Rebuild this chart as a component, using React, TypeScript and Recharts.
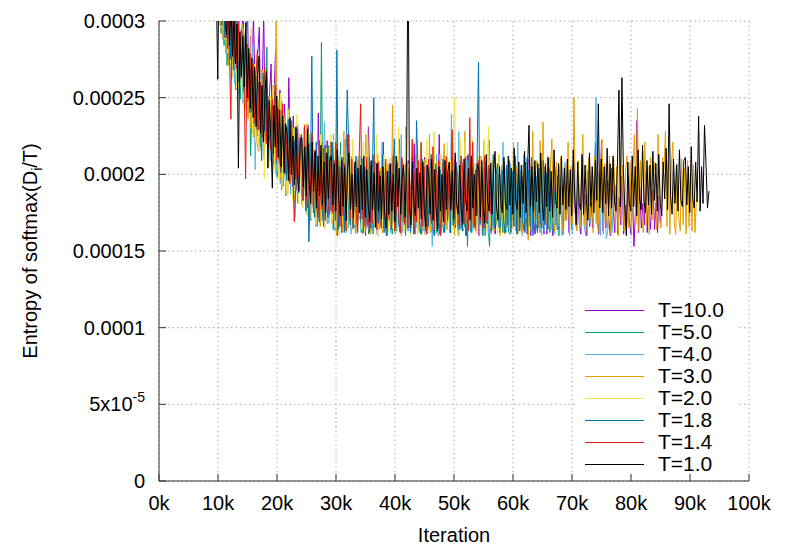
import { LineChart, Line, XAxis, YAxis, CartesianGrid } from "recharts";

// entropy values are stored in units of 1e-6, one sample every 250 iterations
const UNIT = 1e-6;
const STEP = 250;

const xTicks = [0, 10000, 20000, 30000, 40000, 50000, 60000, 70000, 80000, 90000, 100000];
const yTicks = [0, 0.00005, 0.0001, 0.00015, 0.0002, 0.00025, 0.0003];
const yTickLabels = ["0", "5x10|-5", "0.0001", "0.00015", "0.0002", "0.00025", "0.0003"];

const names = ["T=10.0", "T=5.0", "T=4.0", "T=3.0", "T=2.0", "T=1.8", "T=1.4", "T=1.0"];
const colors = ["#9400D3", "#009E73", "#56B4E9", "#E69F00", "#F0E442", "#0072B2", "#E51E10", "#000000"];
const startIters = [9000, 9030, 9060, 9090, 9120, 9150, 9180, 9210];

const t10 = [
  362, 335, 371, 318, 344, 352, 301, 329, 312, 340, 288, 321, 333, 276, 309, 297, 268, 318, 290, 262,
  286, 309, 258, 281, 312, 244, 290, 251, 305, 262, 236, 279, 296, 231, 259, 306, 228, 263, 219, 254,
  272, 218, 251, 281, 226, 207, 255, 229, 192, 246, 224, 201, 263, 213, 197, 238, 211, 190, 232, 204,
  226, 187, 219, 203, 181, 232, 198, 176, 218, 191, 208, 172, 240, 194, 183, 214, 170, 201, 222, 179,
  199, 221, 174, 188, 221, 166, 203, 185, 162, 209, 193, 171, 226, 184, 165, 205, 192, 165, 200, 178,
  212, 168, 190, 203, 160, 183, 231, 194, 166, 198, 176, 208, 161, 189, 203, 172, 221, 180, 163, 195,
  185, 164, 207, 178, 197, 165, 191, 223, 170, 184, 201, 168, 180, 209, 165, 193, 183, 220, 168, 190,
  177, 202, 161, 188, 211, 161, 194, 181, 167, 206, 186, 163, 198, 174, 226, 163, 184, 196, 165, 204,
  174, 192, 165, 201, 181, 165, 208, 161, 186, 170, 197, 176, 160, 212, 166, 189, 168, 195, 178, 163,
  187, 160, 205, 170, 182, 165, 196, 174, 222, 162, 186, 165, 161, 201, 177, 162, 191, 168, 208, 165,
  180, 163, 194, 165, 186, 170, 204, 161, 168, 190, 173, 199, 162, 183, 166, 210, 160, 188, 171, 161,
  192, 168, 165, 199, 176, 161, 207, 161, 185, 171, 196, 160, 179, 203, 164, 165, 189, 175, 161, 200,
  170, 186, 162, 195, 164, 206, 178, 165, 190, 167, 161, 198, 173, 187, 160, 203, 166, 182, 165, 191,
  221, 175, 161, 188, 222, 163, 183, 165, 196, 170, 160, 204, 176, 162, 193, 161, 185, 167, 199, 161,
  180, 165, 195, 168, 161, 188, 153, 175, 235, 162, 191, 165, 181, 167, 201, 162, 186, 164, 178, 190,
  164, 182, 162, 186, 168,
];
const t5 = [
  345, 318, 356, 305, 327, 341, 292, 318, 284, 326, 271, 305, 314, 262, 296, 277, 255, 301, 270, 249,
  283, 246, 291, 257, 238, 279, 212, 247, 270, 233, 264, 225, 257, 218, 251, 268, 222, 283, 213, 244,
  241, 252, 206, 233, 198, 245, 216, 190, 234, 207, 186, 227, 239, 194, 218, 185, 230, 199, 181, 222,
  210, 180, 222, 191, 174, 216, 187, 170, 209, 183, 215, 166, 203, 178, 286, 172, 199, 207, 168, 219,
  195, 210, 164, 189, 204, 160, 193, 221, 171, 166, 201, 178, 165, 207, 182, 168, 199, 163, 190, 211,
  186, 162, 201, 180, 165, 207, 161, 188, 196, 161, 194, 170, 204, 164, 187, 168, 197, 172, 160, 192,
  170, 199, 161, 188, 206, 163, 185, 163, 195, 168, 201, 160, 189, 166, 192, 171, 203, 165, 190, 166,
  163, 192, 171, 168, 200, 175, 165, 194, 166, 163, 190, 204, 162, 186, 161, 197, 168, 162, 191, 164,
  188, 162, 198, 167, 166, 193, 172, 160, 202, 165, 186, 166, 195, 153, 189, 163, 199, 170, 168, 190,
  168, 196, 168, 186, 211, 160, 191, 165, 153, 197, 172, 165, 190, 167, 200, 163, 186, 162, 194, 162,
  189, 162, 161, 197, 170, 192, 163, 187, 166, 201, 162, 185, 168, 195, 168, 188, 163, 173, 193, 165,
  186, 165, 198, 162, 190, 168, 168, 196, 170, 162, 192, 163, 188, 167, 199, 160, 184,
];
const t4 = [
  351, 366, 322, 341, 306, 349, 297, 288, 331, 279, 313, 272, 322, 266, 300, 259, 293, 311, 252, 281,
  296, 249, 278, 300, 239, 274, 230, 285, 262, 203, 273, 241, 219, 266, 237, 212, 261, 225, 250, 209,
  250, 213, 259, 200, 241, 212, 194, 248, 205, 235, 190, 221, 243, 187, 229, 199, 172, 233, 194, 226,
  222, 182, 230, 192, 176, 214, 226, 171, 209, 184, 166, 221, 180, 215, 170, 206, 234, 175, 201, 168,
  206, 173, 226, 163, 199, 212, 165, 193, 207, 168, 223, 162, 197, 176, 161, 208, 171, 202, 163, 191,
  211, 170, 161, 204, 181, 218, 164, 199, 163, 178, 209, 169, 160, 203, 176, 221, 165, 195, 167, 207,
  196, 162, 209, 173, 161, 202, 179, 166, 226, 162, 198, 170, 208, 163, 192, 165, 204, 174, 165, 200,
  175, 207, 162, 197, 161, 211, 178, 165, 202, 153, 190, 168, 213, 160, 195, 171, 168, 206, 166, 193,
  201, 162, 239, 175, 165, 207, 181, 228, 164, 199, 163, 188, 209, 163, 194, 213, 162, 190, 170, 205,
  166, 212, 180, 161, 221, 173, 203, 161, 195, 208, 167, 165, 207, 176, 168, 200, 170, 221, 162, 193,
  190, 165, 207, 171, 199, 166, 185, 221, 163, 203, 160, 192, 172, 211, 161, 196, 178, 162, 206, 168,
  199, 170, 162, 209, 182, 163, 203, 163, 193, 211, 164, 187, 161, 205, 180, 166, 198, 160, 190, 208,
  172, 203, 161, 194, 161, 208, 176, 164, 201, 165, 191, 210, 167, 160, 197, 182, 168, 205, 171, 195,
  250, 166, 202, 160, 191, 161, 188, 158, 163, 196, 175, 162, 190,
];
const t3 = [
  352, 318, 366, 305, 343, 297, 334, 289, 325, 281, 316, 271, 309, 299, 263, 318, 276, 255, 301, 268,
  298, 294, 243, 285, 236, 279, 230, 275, 224, 268, 221, 215, 216, 268, 231, 210, 259, 220, 205, 251,
  214, 258, 210, 305, 202, 249, 197, 239, 193, 237, 188, 187, 243, 195, 231, 190, 182, 234, 199, 188,
  226, 182, 219, 177, 233, 187, 172, 224, 180, 215, 168, 212, 179, 166, 221, 183, 173, 214, 168, 210,
  204, 168, 213, 174, 160, 210, 171, 202, 163, 228, 175, 165, 207, 170, 212, 164, 199, 161, 209, 173,
  170, 211, 165, 202, 226, 165, 206, 161, 199, 209, 168, 198, 213, 166, 204, 162, 208, 171, 163, 201,
  210, 166, 245, 172, 161, 205, 212, 168, 160, 207, 175, 231, 163, 203, 168, 210, 171, 165, 213, 174,
  162, 206, 172, 163, 210, 176, 164, 226, 162, 203, 173, 161, 208, 168, 213, 161, 201, 220, 164, 196,
  208, 165, 201, 221, 160, 205, 171, 168, 210, 174, 166, 228, 162, 204, 165, 211, 172, 164, 207, 169,
  203, 160, 212, 171, 168, 208, 165, 226, 173, 161, 209, 163, 203, 167, 213, 160, 206, 172, 161, 204,
  165, 210, 173, 165, 221, 169, 205, 161, 208, 166, 162, 213, 174, 168, 157, 207, 163, 228, 171, 203,
  209, 166, 222, 160, 234, 175, 168, 212, 165, 205, 223, 170, 163, 208, 168, 201, 211, 167, 162, 206,
  170, 221, 160, 205, 168, 250, 174, 163, 209, 165, 201, 226, 167, 206, 162, 211, 171, 204, 162, 212,
  168, 209, 162, 203, 223, 162, 207, 172, 165, 212, 161, 202, 210, 167, 205, 160, 221, 169, 206, 163,
  203, 212, 165, 208, 160, 204, 226, 168, 243, 163, 209, 172, 162, 221, 167, 205, 161, 211, 170, 201,
  208, 164, 226, 171, 165, 211, 203, 228, 166, 209, 161, 205, 221, 168, 161, 207, 172, 163, 210, 167,
  204, 161, 209, 166, 202, 163, 206, 162, 185,
];
const t2 = [
  356, 330, 318, 362, 309, 340, 296, 331, 288, 323, 279, 315, 271, 306, 263, 300, 256, 293, 249, 286,
  285, 245, 293, 237, 281, 233, 296, 226, 272, 221, 278, 218, 262, 214, 268, 197, 256, 219, 205, 251,
  215, 257, 203, 249, 211, 196, 253, 191, 240, 203, 187, 242, 195, 235, 183, 230, 190, 239, 181, 227,
  224, 178, 233, 186, 173, 228, 182, 171, 222, 180, 167, 219, 176, 226, 171, 213, 164, 217, 178, 202,
  226, 170, 222, 166, 228, 176, 161, 213, 172, 165, 218, 163, 210, 170, 165, 223, 167, 206, 161, 212,
  207, 164, 221, 162, 205, 231, 168, 168, 212, 171, 165, 226, 160, 208, 169, 166, 213, 167, 206, 162,
  211, 167, 165, 221, 173, 164, 231, 161, 208, 170, 163, 223, 166, 207, 160, 221, 169, 163, 210, 161,
  206, 220, 165, 209, 160, 223, 171, 161, 212, 168, 228, 162, 207, 170, 168, 213, 167, 206, 163, 221,
  169, 210, 162, 228, 250, 167, 208, 160, 224, 173, 165, 221, 165, 209, 171, 164, 223, 168, 207, 161,
  212, 167, 206, 162, 223, 170, 163, 231, 172, 165, 210, 166, 207, 161, 213, 169, 168, 209, 164, 205,
  168, 211, 162, 206, 186,
];
const t18 = [
  347, 362, 316, 343, 304, 336, 297, 324, 289, 330, 282, 311, 275, 304, 268, 296, 308, 260, 290, 263,
  284, 254, 292, 247, 277, 240, 271, 275, 233, 264, 229, 260, 236, 209, 266, 228, 255, 218, 248, 224,
  245, 214, 254, 207, 239, 212, 201, 242, 205, 233, 196, 236, 200, 227, 192, 222, 197, 230, 188, 219,
  226, 183, 216, 176, 230, 156, 188, 277, 179, 172, 221, 186, 169, 215, 177, 166, 219, 181, 172, 211,
  176, 221, 203, 170, 281, 164, 205, 169, 211, 162, 203, 255, 221, 167, 208, 165, 201, 212, 165, 204,
  170, 210, 162, 205, 174, 167, 211, 165, 199, 250, 165, 207, 168, 202, 169, 213, 162, 204, 160, 200,
  206, 164, 201, 223, 165, 203, 167, 162, 209, 170, 168, 207, 166, 202, 162, 211, 168, 161, 235, 204,
  169, 161, 210, 200, 163, 206, 166, 201, 213, 166, 160, 207, 199, 165, 203, 167, 210, 162, 204, 170,
  200, 162, 211, 167, 168, 206, 198, 164, 209, 163, 202, 168, 160, 213, 201, 162, 205, 166, 165, 208,
  273, 167, 202, 160, 210, 169, 168, 204, 199, 163, 213, 165, 200, 207, 165, 166, 203, 170, 162, 206,
  167, 209, 162, 202, 166, 212, 161, 200, 163, 206, 169, 163, 208, 161, 203, 166, 211, 160, 199, 168,
  162, 204, 169, 165, 209, 167, 201, 164, 204,
];
const t14 = [
  355, 329, 369, 316, 340, 312, 351, 300, 327, 289, 316, 280, 236, 323, 274, 305, 269, 300, 261, 294,
  290, 258, 197, 285, 249, 279, 241, 272, 234, 265, 281, 229, 260, 224, 255, 270, 220, 251, 226, 216,
  249, 217, 258, 209, 243, 215, 203, 246, 219, 200, 231, 206, 194, 235, 203, 169, 191, 227, 198, 224,
  223, 183, 232, 189, 178, 220, 185, 227, 175, 216, 181, 172, 222, 184, 177, 217, 170, 212, 179, 174,
  221, 175, 209, 170, 220, 178, 166, 211, 173, 207, 163, 203, 226, 171, 210, 168, 206, 175, 162, 212,
  246, 171, 205, 166, 211, 173, 162, 206, 168, 213, 176, 164, 208, 170, 165, 203, 172, 210, 167, 175,
  206, 168, 212, 163, 175, 208, 170, 162, 211, 174, 167, 207, 165, 204, 172, 223, 161, 202, 169, 209,
  173, 221, 166, 205, 171, 161, 210, 175, 168, 218, 164, 203, 170, 209, 160, 174, 207, 167, 212, 172,
  205, 176, 229, 169, 210, 180, 172, 165, 212, 206, 168, 211, 174, 163, 237, 171, 221, 166, 203, 173,
  209, 170, 204, 165, 212, 174, 168, 206, 175,
];
const t1 = [
  365, 338, 321, 262, 349, 316, 306, 337, 298, 291, 322, 284, 312, 277, 305, 272, 298, 204, 293, 264,
  290, 257, 299, 250, 282, 243, 276, 237, 270, 231, 264, 277, 227, 258, 221, 253, 267, 204, 248, 224,
  191, 245, 218, 251, 211, 242, 205, 238, 201, 233, 227, 196, 237, 200, 225, 193, 231, 198, 189, 223,
  224, 192, 218, 186, 229, 195, 181, 221, 189, 215, 178, 212, 186, 219, 180, 208, 175, 214, 184, 209,
  212, 180, 207, 176, 216, 184, 173, 209, 179, 205, 170, 203, 214, 177, 200, 172, 208, 179, 204, 175,
  206, 177, 212, 172, 203, 180, 169, 209, 177, 201, 166, 207, 176, 199, 171, 205, 178, 165, 202, 174,
  207, 176, 200, 169, 212, 179, 204, 174, 199, 206, 172, 202, 360, 177, 167, 208, 180, 173, 204, 178,
  201, 171, 208, 177, 166, 206, 199, 174, 210, 170, 203, 179, 163, 205, 176, 200, 169, 209, 177, 202,
  208, 177, 202, 171, 214, 181, 174, 206, 179, 167, 210, 183, 176, 204, 170, 212, 178, 200, 173, 207,
  203, 172, 209, 179, 168, 213, 182, 176, 207, 174, 201, 215, 178, 170, 205, 180, 175, 211, 181, 177,
  212, 180, 204, 174, 217, 183, 177, 208, 172, 206, 181, 215, 175, 203, 232, 179, 205, 176, 209, 182,
  207, 175, 214, 181, 170, 205, 179, 211, 176, 202, 172, 216, 183, 178, 207, 174, 212, 180, 204, 177,
  210, 179, 203, 173, 216, 186, 167, 208, 181, 177, 213, 174, 206, 182, 170, 214, 179, 205, 175, 209,
  183, 246, 178, 210, 175, 205, 181, 217, 173, 207, 178, 212, 182, 176, 208, 255, 179, 263, 203, 177,
  160, 208, 182, 176, 212, 179, 205, 173, 216, 184, 177, 219, 182, 175, 209, 180, 206, 174, 215, 183,
  207, 176, 213, 181, 173, 208, 184, 217, 177, 246, 186, 174, 210, 181, 206, 176, 216, 183, 179, 209,
  211, 180, 205, 175, 218, 184, 178, 208, 182, 238, 176, 205, 181, 232, 207, 178, 189,
];

const values = [t10, t5, t4, t3, t2, t18, t14, t1];

const series = names.map((name, i) => ({
  name,
  color: colors[i],
  points: values[i].map((v, j) => ({ iter: startIters[i] + j * STEP, entropy: v * UNIT })),
}));

const FONT = "'Liberation Sans', Arial, Helvetica, sans-serif";
const BORDER = "#333";
const TICK_LEN = 7;

function BottomTick(props: any) {
  const { x, y, payload } = props;
  return (
    <g>
      <line x1={x} y1={y} x2={x} y2={y - TICK_LEN} stroke={BORDER} />
      <text x={x} y={y + 29} textAnchor="middle" fontSize={20} fontFamily={FONT} fill="#000">
        {payload.value / 1000}k
      </text>
    </g>
  );
}

function TopTick(props: any) {
  const { x, y } = props;
  return <line x1={x} y1={y} x2={x} y2={y + TICK_LEN} stroke={BORDER} />;
}

function LeftTick(props: any) {
  const { x, y, payload } = props;
  const idx = yTicks.findIndex((t) => Math.abs(t - payload.value) < 1e-12);
  const [base, sup] = (yTickLabels[idx] ?? "").split("|");
  return (
    <g>
      <line x1={x} y1={y} x2={x + TICK_LEN} y2={y} stroke={BORDER} />
      <text x={x - 14} y={y + 7} textAnchor="end" fontSize={20} fontFamily={FONT} fill="#000">
        {base}
        {sup && (
          <tspan fontSize={14} dy={-9}>
            {sup}
          </tspan>
        )}
      </text>
    </g>
  );
}

function RightTick(props: any) {
  const { x, y } = props;
  return <line x1={x} y1={y} x2={x - TICK_LEN} y2={y} stroke={BORDER} />;
}

function YLabel(props: any) {
  const vb = props.viewBox ?? { x: 0, y: 21, width: 159, height: 460 };
  const cx = vb.x + 30;
  const cy = vb.y + vb.height / 2;
  return (
    <text
      transform={`translate(${cx},${cy}) rotate(-90)`}
      x={0}
      y={7}
      textAnchor="middle"
      fontSize={20}
      fontFamily={FONT}
      fill="#000"
    >
      Entropy of softmax(D
      <tspan fontSize={14} dy={5}>
        i
      </tspan>
      <tspan dy={-5}>/T)</tspan>
    </text>
  );
}

function XLabel(props: any) {
  const vb = props.viewBox ?? { x: 159, y: 481, width: 590, height: 60 };
  return (
    <text x={vb.x + vb.width / 2} y={vb.y + 61} textAnchor="middle" fontSize={20} fontFamily={FONT} fill="#000">
      Iteration
    </text>
  );
}

export default function App() {
  return (
    <div style={{ position: "fixed", left: 0, top: 0, width: 789, height: 552, background: "#fff" }}>
      <LineChart width={789} height={552} margin={{ top: 21, right: 40, bottom: 11, left: 0 }}>
        <CartesianGrid stroke="#a8a8a8" strokeDasharray="1.5 3" />
        {series.map((s) => (
          <Line
            key={s.name}
            data={s.points}
            dataKey="entropy"
            name={s.name}
            type="linear"
            stroke={s.color}
            strokeWidth={1}
            dot={false}
            activeDot={false}
            isAnimationActive={false}
          />
        ))}
        <XAxis
          dataKey="iter"
          type="number"
          domain={[0, 100000]}
          ticks={xTicks}
          interval={0}
          allowDataOverflow
          height={60}
          tickSize={0}
          tickMargin={0}
          tickLine={false}
          axisLine={{ stroke: BORDER }}
          tick={<BottomTick />}
          label={<XLabel />}
        />
        <XAxis
          xAxisId="top"
          orientation="top"
          type="number"
          domain={[0, 100000]}
          ticks={xTicks}
          interval={0}
          allowDataOverflow
          height={0}
          tickSize={0}
          tickMargin={0}
          tickLine={false}
          axisLine={{ stroke: BORDER }}
          tick={<TopTick />}
        />
        <YAxis
          type="number"
          domain={[0, 0.0003]}
          ticks={yTicks}
          interval={0}
          allowDataOverflow
          width={159}
          tickSize={0}
          tickMargin={0}
          tickLine={false}
          axisLine={{ stroke: BORDER }}
          tick={<LeftTick />}
          label={<YLabel />}
        />
        <YAxis
          yAxisId="right"
          orientation="right"
          type="number"
          domain={[0, 0.0003]}
          ticks={yTicks}
          interval={0}
          allowDataOverflow
          width={0}
          tickSize={0}
          tickMargin={0}
          tickLine={false}
          axisLine={{ stroke: BORDER }}
          tick={<RightTick />}
        />
      </LineChart>
      <div
        style={{
          position: "absolute",
          left: 575,
          top: 299,
          width: 162,
          height: 175,
          background: "#fff",
          fontFamily: FONT,
          fontSize: 21,
          color: "#000",
        }}
      >
        {series.map((s) => (
          <div key={s.name} style={{ display: "flex", alignItems: "center", height: 22 }}>
            <div style={{ marginLeft: 10, width: 59, height: 0, borderTop: `1.5px solid ${s.color}` }} />
            <span style={{ marginLeft: 14, lineHeight: "22px" }}>{s.name}</span>
          </div>
        ))}
      </div>
    </div>
  );
}
